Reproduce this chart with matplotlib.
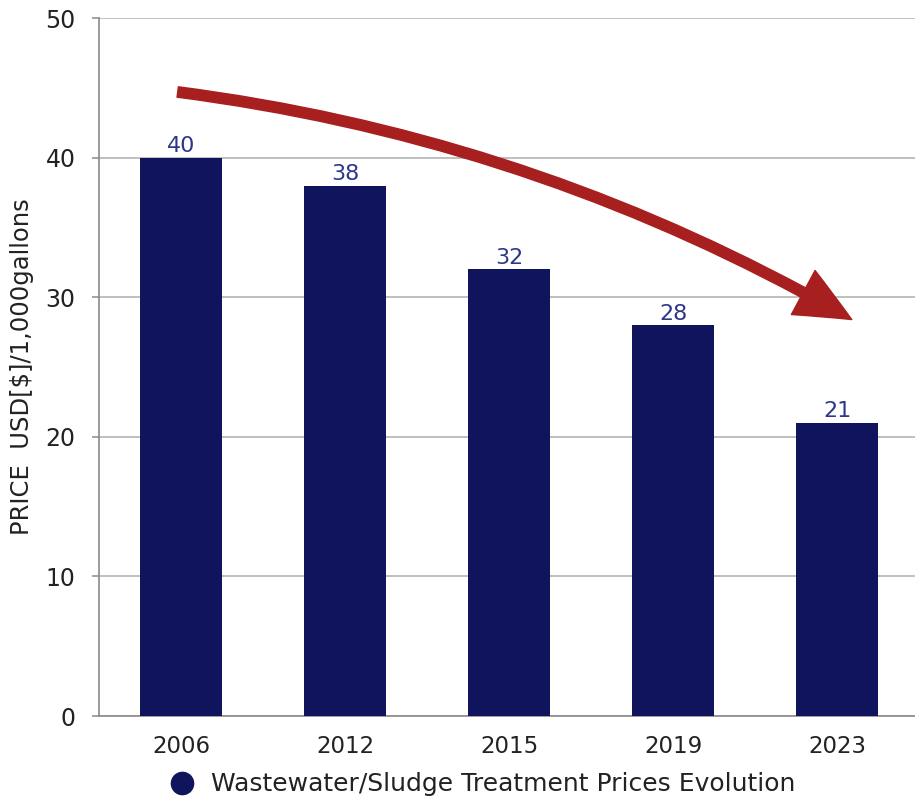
import matplotlib

matplotlib.use("Agg")

import matplotlib.pyplot as plt
from matplotlib.lines import Line2D
from matplotlib.patches import FancyArrowPatch

years = ["2006", "2012", "2015", "2019", "2023"]
prices = [40, 38, 32, 28, 21]
y_ticks = [0, 10, 20, 30, 40, 50]
legend_label = "Wastewater/Sludge Treatment Prices Evolution"
y_label = "PRICE  USD[$]/1,000gallons"

# trend arrow end points (category index, price)
arrow_start = (-0.02, 44.7)
arrow_end = (4.09, 28.4)

BAR = "#10145c"
LABEL = "#2d3786"
ARROW = "#a81f1f"
GRID = "#b4b4b4"
SPINE = "#8a8a8a"
TEXT = "#222222"

plt.rcParams["font.family"] = ["DejaVu Sans"]

fig = plt.figure(figsize=(9.15, 7.99), dpi=100)
ax = fig.add_axes([99 / 915, 1 - 716 / 799, 820 / 915, 698 / 799])

x = range(len(years))
bars = ax.bar(x, prices, width=0.5, color=BAR, zorder=3)
for bar, value in zip(bars, prices):
    ax.annotate(
        f"{value}",
        (bar.get_x() + bar.get_width() / 2, value),
        xytext=(0, 1.0),
        textcoords="offset points",
        ha="center",
        va="bottom",
        fontsize=16,
        color=LABEL,
        zorder=4,
    )

ax.set_xlim(-0.5, len(years) - 0.5)
ax.set_ylim(0, 50)
ax.set_yticks(y_ticks)
ax.set_xticks(list(x))
ax.set_xticklabels(years)
ax.tick_params(axis="x", length=0, pad=14, labelsize=16.5, labelcolor=TEXT)
ax.tick_params(axis="y", length=5, width=1.1, color=SPINE, pad=12, labelsize=17, labelcolor=TEXT)
ax.grid(axis="y", color=GRID, linewidth=1.2, zorder=0)
ax.set_axisbelow(True)
for side in ("top", "right"):
    ax.spines[side].set_visible(False)
for side in ("left", "bottom"):
    ax.spines[side].set_color(SPINE)
    ax.spines[side].set_linewidth(1.2)

ax.set_ylabel(y_label, fontsize=17.5, color=TEXT)
ax.yaxis.set_label_coords(-0.079, 0.5)

arrow = FancyArrowPatch(
    arrow_start,
    arrow_end,
    connectionstyle="arc3,rad=-0.10",
    arrowstyle="simple,head_length=40,head_width=36,tail_width=7.5",
    mutation_scale=1,
    color=ARROW,
    shrinkA=0,
    shrinkB=0,
    zorder=5,
    clip_on=False,
)
ax.add_patch(arrow)

handle = Line2D([], [], marker="o", linestyle="none", markersize=16, color=BAR)
fig.legend(
    [handle],
    [legend_label],
    loc="lower center",
    bbox_to_anchor=(476 / 915, -0.025),
    frameon=False,
    fontsize=18,
    handletextpad=0.15,
    labelcolor=TEXT,
)

fig.savefig("out.png", dpi=100)
plt.close(fig)
